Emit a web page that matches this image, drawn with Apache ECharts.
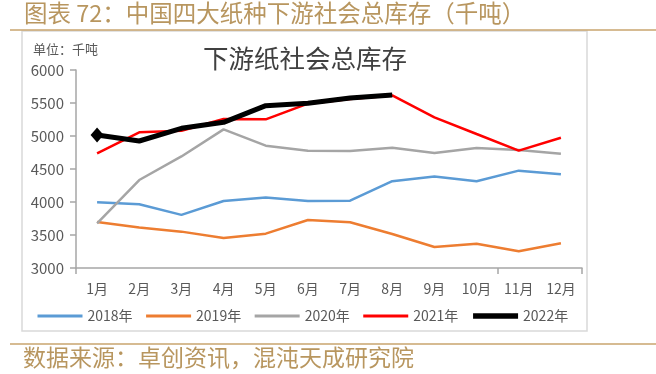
<!DOCTYPE html>
<html><head><meta charset="utf-8">
<script src="https://cdn.jsdelivr.net/npm/echarts@6/dist/echarts.min.js"></script>
<style>html,body{margin:0;padding:0;background:#fff}#c{width:656px;height:374px}</style>
</head><body><div id="c"></div>
<script>
const months = ['1月','2月','3月','4月','5月','6月','7月','8月','9月','10月','11月','12月'];
const seriesNames = ['2018年','2019年','2020年','2021年','2022年'];
const s2018 = [3995, 3965, 3805, 4015, 4070, 4015, 4020, 4315, 4385, 4315, 4475, 4420];
const s2019 = [3697, 3612, 3551, 3456, 3520, 3727, 3692, 3515, 3318, 3369, 3253, 3374];
const s2020 = [3677, 4333, 4690, 5100, 4853, 4778, 4773, 4823, 4742, 4818, 4788, 4732];
const s2021 = [4737, 5056, 5080, 5258, 5253, 5490, 5560, 5615, 5283, 5030, 4778, 4974];
const s2022 = [5015, 4924, 5117, 5207, 5460, 5495, 5575, 5621];
const yMin = 3000, yMax = 6000, yStep = 500;
const headerText = '图表 72：中国四大纸种下游社会总库存（千吨）';
const chartTitle = '下游纸社会总库存';
const unitText = '单位：千吨';
const sourceText = '数据来源：卓创资讯，混沌天成研究院';

const colors = ['#5b9bd5', '#ed7d31', '#a5a5a5', '#ff0000', '#000000'];
const widths = [2.5, 2.5, 2.5, 2.5, 5];
const allData = [s2018, s2019, s2020, s2021, s2022];
const FONT = '"Noto Sans CJK SC", "Noto Sans", sans-serif';

const chart = echarts.init(document.getElementById('c'), null, {renderer: 'canvas'});
const series = allData.map((d, k) => ({
  name: seriesNames[k],
  type: 'line',
  data: k === 4 ? d.map((v, i) => i === 0 ? {value: v, symbol: 'diamond', symbolSize: [13, 15]} : v) : d,
  symbol: 'none',
  showSymbol: true,
  itemStyle: {color: colors[k]},
  lineStyle: {color: colors[k], width: widths[k]},
  animation: false,
  z: 2 + k
}));

chart.setOption({
  backgroundColor: '#fff',
  animation: false,
  color: colors,
  graphic: [
    {type: 'rect', shape: {x: 22, y: 31, width: 565, height: 300}, style: {fill: 'none', stroke: '#d9d9d9', lineWidth: 1.5}, z: 0},
    {type: 'line', shape: {x1: 10, y1: 30, x2: 656, y2: 30}, style: {stroke: '#c8a46e', lineWidth: 1.5}, z: 1},
    {type: 'line', shape: {x1: 10, y1: 344, x2: 656, y2: 344}, style: {stroke: '#c8a46e', lineWidth: 1.5}, z: 1},
    {type: 'text', left: 24, top: 1, style: {text: headerText, fill: '#b8965f', font: '23.5px ' + FONT}},
    {type: 'text', left: 23, top: 346, style: {text: sourceText, fill: '#b8965f', font: '23px ' + FONT}},
    {type: 'text', left: 33, top: 43, style: {text: unitText, fill: '#595959', font: '13px ' + FONT}},
    {type: 'text', left: 203, top: 46, style: {text: chartTitle, fill: '#404040', font: '25.5px ' + FONT}}
  ],
  grid: {left: 76, right: 74, top: 70, bottom: 106, containLabel: false},
  legend: {
    data: seriesNames.map((n, k) => ({name: n, lineStyle: {width: widths[k] + 0.5, color: colors[k]}, itemStyle: {opacity: 0}})),
    left: 31, top: 304,
    itemWidth: 45, itemHeight: 16, itemGap: 12,
    itemStyle: {opacity: 0},
    textStyle: {fontSize: 14, color: '#595959', fontFamily: FONT}
  },
  xAxis: {
    type: 'category',
    data: months,
    boundaryGap: true,
    axisLine: {lineStyle: {color: '#a6a6a6', width: 1.5}},
    axisTick: {show: true, inside: false, length: 6, lineStyle: {color: '#a6a6a6', width: 1.5}, interval: (i) => i === 0 || i === 10},
    axisLabel: {color: '#595959', fontSize: 14, fontFamily: FONT, margin: 14, interval: 0},
    splitLine: {show: false}
  },
  yAxis: {
    type: 'value',
    min: yMin, max: yMax, interval: yStep,
    axisLine: {show: true, lineStyle: {color: '#a6a6a6', width: 1.5}},
    axisTick: {show: true, inside: false, length: 6, lineStyle: {color: '#a6a6a6', width: 1.5}},
    axisLabel: {color: '#595959', fontSize: 15, fontFamily: FONT, margin: 12, formatter: (v) => String(v)},
    splitLine: {show: false}
  },
  series: series
});
</script>
</body></html>
